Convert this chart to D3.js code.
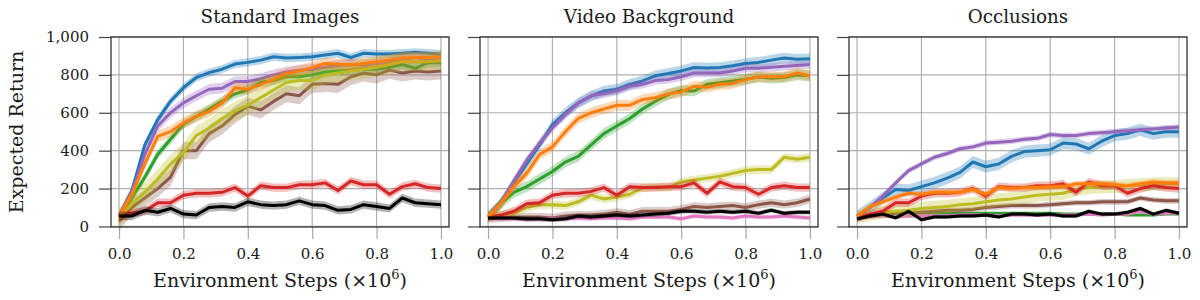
<!DOCTYPE html>
<html>
<head>
<meta charset="utf-8">
<script src="https://cdn.jsdelivr.net/npm/d3@7"></script>
<style>
  body { margin: 0; background: #fff; }
  svg text { font-family: "DejaVu Serif", serif; fill: #1a1a1a; }
</style>
</head>
<body>
<svg id="chart"></svg>
<script>
let svgWidth = 1200, svgHeight = 300

// x positions of the logged points (millions of env steps)
const steps = [0, 0.04, 0.08, 0.12, 0.16, 0.2, 0.24, 0.28, 0.32, 0.36, 0.4, 0.44, 0.48,
  0.52, 0.56, 0.6, 0.64, 0.68, 0.72, 0.76, 0.8, 0.84, 0.88, 0.92, 0.96, 1.0]

const panelTitles = ['Standard Images', 'Video Background', 'Occlusions']
const seriesNames = ['blue', 'orange', 'green', 'red', 'purple', 'brown', 'pink', 'olive', 'black']
const seriesColors = ['#1f77b4', '#ff7f0e', '#2ca02c', '#d62728', '#9467bd', '#8c564b', '#e377c2', '#bcbd22', '#000000']
const drawOrder = ['blue', 'purple', 'green', 'brown', 'pink', 'olive', 'red', 'orange', 'black']
const yTicks = [0, 200, 400, 600, 800, 1000]
const xTicks = [0, 0.2, 0.4, 0.6, 0.8, 1.0]

// --- Standard Images
const stdBlue = [55, 190, 430, 563, 661, 732, 786, 812, 830, 857, 866, 878, 896, 889, 892, 896, 905, 914, 892, 914, 910, 910, 914, 919, 914, 910]
const stdOrange = [50, 170, 330, 475, 501, 546, 581, 608, 652, 732, 724, 750, 777, 807, 821, 839, 860, 857, 852, 860, 869, 878, 889, 892, 892, 896]
const stdGreen = [50, 150, 260, 380, 460, 540, 580, 620, 660, 700, 720, 760, 770, 790, 790, 800, 815, 820, 825, 830, 830, 840, 855, 835, 865, 865]
const stdRed = [50, 70, 80, 125, 125, 165, 175, 175, 180, 205, 160, 215, 205, 205, 220, 220, 230, 190, 240, 220, 220, 170, 210, 225, 205, 200]
const stdPurple = [55, 180, 380, 530, 600, 652, 690, 724, 730, 765, 765, 780, 800, 815, 825, 830, 840, 850, 855, 855, 860, 870, 880, 890, 880, 880]
const stdBrown = [25, 100, 150, 200, 260, 400, 400, 490, 530, 590, 635, 615, 660, 700, 690, 750, 755, 750, 790, 810, 800, 825, 810, 820, 815, 820]
const stdPink = null
const stdOlive = [45, 120, 180, 250, 330, 390, 480, 520, 570, 610, 640, 680, 720, 760, 770, 770, 800, 810, 820, 830, 840, 855, 870, 870, 870, 875]
const stdBlack = [55, 55, 85, 75, 95, 65, 60, 100, 105, 100, 130, 115, 110, 115, 135, 115, 110, 85, 90, 115, 105, 95, 150, 125, 120, 115]
const stdSpread = [22, 30, 25, 22, 28, 45, 0, 50, 22]

// --- Video Background
const vidBlue = [50, 120, 230, 330, 430, 537, 599, 652, 688, 715, 724, 750, 768, 795, 807, 821, 839, 836, 839, 848, 860, 866, 878, 889, 882, 885]
const vidOrange = [50, 120, 210, 280, 380, 420, 500, 570, 600, 620, 640, 640, 670, 680, 700, 710, 740, 735, 750, 755, 775, 790, 790, 790, 810, 795]
const vidGreen = [50, 120, 180, 210, 250, 290, 340, 370, 430, 490, 530, 570, 620, 661, 697, 718, 715, 750, 758, 768, 777, 789, 782, 786, 800, 795]
const vidRed = [50, 60, 80, 120, 125, 165, 175, 175, 185, 205, 165, 210, 205, 205, 210, 210, 230, 175, 235, 210, 205, 170, 205, 215, 205, 205]
const vidPurple = [50, 130, 240, 350, 440, 520, 590, 650, 690, 700, 715, 740, 750, 770, 775, 790, 810, 810, 810, 820, 835, 835, 840, 845, 850, 855]
const vidBrown = [40, 45, 50, 50, 50, 45, 55, 60, 60, 65, 75, 65, 80, 80, 80, 90, 105, 100, 105, 110, 100, 115, 125, 115, 125, 145]
const vidPink = [45, 40, 45, 35, 40, 40, 40, 45, 40, 45, 45, 40, 50, 50, 50, 40, 55, 50, 50, 45, 55, 50, 50, 55, 50, 45]
const vidOlive = [50, 60, 70, 100, 115, 115, 110, 130, 165, 145, 155, 170, 205, 210, 205, 235, 245, 255, 265, 280, 295, 300, 300, 365, 355, 365]
const vidBlack = [45, 45, 45, 40, 40, 35, 40, 55, 50, 55, 60, 55, 60, 65, 70, 80, 80, 75, 80, 75, 80, 70, 85, 70, 75, 75]
const vidSpread = [28, 28, 28, 22, 22, 22, 12, 22, 12]

// --- Occlusions
const occBlue = [55, 100, 150, 195, 190, 210, 230, 255, 285, 340, 315, 330, 370, 395, 400, 405, 440, 435, 410, 450, 480, 490, 510, 490, 500, 500]
const occOrange = [55, 105, 130, 155, 175, 170, 180, 180, 180, 195, 170, 205, 200, 205, 205, 210, 210, 225, 225, 225, 220, 215, 225, 235, 230, 230]
const occGreen = [55, 65, 70, 70, 70, 70, 70, 70, 70, 70, 70, 70, 70, 70, 70, 70, 65, 65, 65, 65, 65, 60, 60, 60, 65, 65]
const occRed = [45, 65, 80, 125, 125, 160, 175, 175, 180, 200, 160, 210, 205, 205, 215, 215, 225, 180, 235, 215, 215, 175, 200, 215, 205, 200]
const occPurple = [55, 100, 160, 230, 295, 330, 365, 385, 410, 420, 440, 445, 450, 460, 465, 485, 480, 480, 490, 495, 500, 505, 510, 515, 520, 525]
const occBrown = [40, 55, 65, 70, 70, 75, 80, 85, 85, 90, 100, 105, 110, 110, 110, 115, 120, 125, 125, 130, 130, 130, 150, 140, 135, 135]
const occPink = [45, 50, 55, 50, 55, 55, 55, 55, 60, 60, 60, 55, 60, 60, 60, 60, 60, 60, 65, 60, 65, 65, 80, 65, 70, 70]
const occOlive = [50, 65, 75, 80, 85, 95, 100, 105, 115, 120, 130, 140, 145, 155, 165, 170, 175, 195, 205, 210, 210, 215, 220, 225, 225, 225]
const occBlack = [40, 55, 65, 45, 80, 35, 50, 50, 55, 55, 60, 50, 65, 65, 60, 65, 55, 55, 80, 65, 65, 75, 95, 65, 85, 70]
const occSpread = [32, 15, 6, 22, 15, 15, 10, 35, 10]

const panelData = [
  [stdBlue, stdOrange, stdGreen, stdRed, stdPurple, stdBrown, stdPink, stdOlive, stdBlack],
  [vidBlue, vidOrange, vidGreen, vidRed, vidPurple, vidBrown, vidPink, vidOlive, vidBlack],
  [occBlue, occOrange, occGreen, occRed, occPurple, occBrown, occPink, occOlive, occBlack]
]
const panelSpread = [stdSpread, vidSpread, occSpread]

// layout
const panelLeft = [111, 480, 849], panelW = 338, panelTop = 37, panelBottom = 227

let svg = d3.select('#chart').attr('width', svgWidth).attr('height', svgHeight)

let y = d3.scaleLinear().domain([-3, 1000]).range([panelBottom, panelTop])

panelTitles.forEach((title, p) => {
  let x0 = panelLeft[p]
  let x = d3.scaleLinear().domain([-0.025, 1.025]).range([x0, x0 + panelW])
  let g = svg.append('g')

  // grid
  g.selectAll('.vgrid').data(xTicks).enter().append('line')
    .attr('x1', d => x(d)).attr('x2', d => x(d))
    .attr('y1', panelTop).attr('y2', panelBottom)
    .attr('stroke', '#b0b0b0').attr('stroke-width', 1.2)
  g.selectAll('.hgrid').data(yTicks).enter().append('line')
    .attr('x1', x0).attr('x2', x0 + panelW)
    .attr('y1', d => y(d)).attr('y2', d => y(d))
    .attr('stroke', '#b0b0b0').attr('stroke-width', 1.2)

  // axes (ticks)
  let xAxis = g.append('g').attr('transform', `translate(0,${panelBottom})`)
    .call(d3.axisBottom(x).tickValues(xTicks).tickSize(12).tickPadding(9).tickFormat(d3.format('.1f')))
  xAxis.select('.domain').remove()
  xAxis.selectAll('line').attr('stroke', '#a8a8a8').attr('stroke-width', 1.2)
  xAxis.selectAll('text').attr('font-size', 15).attr('font-family', 'DejaVu Serif').attr('fill', '#1a1a1a')

  let yAxis = g.append('g').attr('transform', `translate(${x0},0)`)
    .call(d3.axisLeft(y).tickValues(yTicks).tickSize(12).tickPadding(10)
      .tickFormat(p === 0 ? d3.format(',') : ''))
  yAxis.select('.domain').remove()
  yAxis.selectAll('line').attr('stroke', '#444').attr('stroke-width', 1.2)
  yAxis.selectAll('text').attr('font-size', 15).attr('font-family', 'DejaVu Serif').attr('fill', '#1a1a1a')

  // series: band then mean line
  let area = d3.area().x((d, i) => x(steps[i]))
  let line = d3.line().x((d, i) => x(steps[i])).y(d => y(d))

  drawOrder.forEach(name => {
    let s = seriesNames.indexOf(name)
    let vals = panelData[p][s]
    if (!vals) return
    let spread = panelSpread[p][s]
    g.append('path').datum(vals)
      .attr('d', area.y0(d => y(d - spread)).y1(d => y(d + spread)))
      .attr('fill', seriesColors[s]).attr('fill-opacity', 0.3).attr('stroke', 'none')
    g.append('path').datum(vals)
      .attr('d', line)
      .attr('fill', 'none').attr('stroke', seriesColors[s])
      .attr('stroke-width', 3).attr('stroke-linejoin', 'round')
  })

  // frame
  g.append('rect').attr('x', x0).attr('y', panelTop)
    .attr('width', panelW).attr('height', panelBottom - panelTop)
    .attr('fill', 'none').attr('stroke', '#333').attr('stroke-width', 1.3)

  // title
  g.append('text').attr('x', x0 + panelW / 2).attr('y', 23)
    .attr('text-anchor', 'middle').attr('font-size', 18.3).text(title)

  // x label
  let xl = g.append('text').attr('x', x0 + panelW / 2).attr('y', 287)
    .attr('text-anchor', 'middle').attr('font-size', 19)
  xl.append('tspan').text('Environment Steps (×10')
  xl.append('tspan').attr('dy', -8).attr('font-size', 13).text('6')
  xl.append('tspan').attr('dy', 8).text(')')
})

// y label
svg.append('text')
  .attr('transform', `translate(23,${(panelTop + panelBottom) / 2}) rotate(-90)`)
  .attr('text-anchor', 'middle').attr('font-size', 19)
  .text('Expected Return')
</script>
</body>
</html>
